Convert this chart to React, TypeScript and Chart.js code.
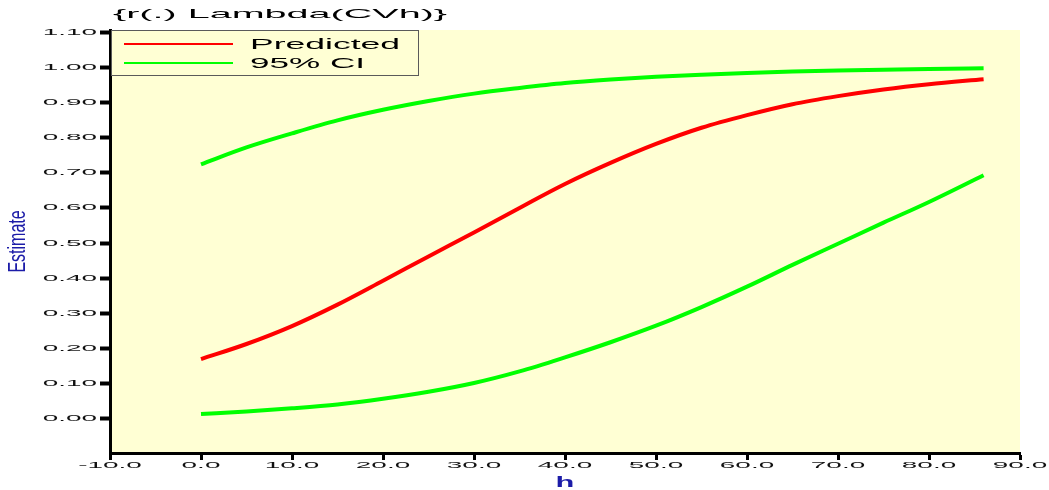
import React, { useEffect, useRef } from "react";
import { Chart, registerables } from "chart.js";

Chart.register(...registerables);

// ---- data ----
const hValues = [0, 5, 10, 15, 20, 25, 30, 35, 40, 45, 50, 55, 60, 65, 70, 75, 80, 86];
const predicted = [
  0.17, 0.213, 0.264, 0.325, 0.393, 0.462, 0.53, 0.6, 0.668, 0.728, 0.782, 0.828, 0.864, 0.895,
  0.918, 0.937, 0.952, 0.966,
];
const upperCI = [
  0.724, 0.772, 0.812, 0.849, 0.879, 0.904, 0.925, 0.941, 0.955, 0.965, 0.973, 0.979, 0.984,
  0.988, 0.991, 0.993, 0.995, 0.997,
];
const lowerCI = [
  0.014, 0.021, 0.03, 0.041, 0.057, 0.077, 0.102, 0.135, 0.175, 0.218, 0.265, 0.318, 0.376,
  0.438, 0.498, 0.558, 0.617, 0.693,
];
const xTickValues = [-10, 0, 10, 20, 30, 40, 50, 60, 70, 80, 90];
const yTickValues = [0, 0.1, 0.2, 0.3, 0.4, 0.5, 0.6, 0.7, 0.8, 0.9, 1.0, 1.1];
const chartTitle = "{r(.) Lambda(CVh)}";
const xAxisTitle = "h";
const yAxisTitle = "Estimate";
const legendLabels = ["Predicted", "95% CI"];

const PLOT_BG = "#FFFFD4";
const RED = "#FF0000";
const GREEN = "#00FF00";
const AXIS_BLUE = "#1C1CA8";
const FONT = "'Liberation Sans', Arial, sans-serif";

function wideText(
  ctx: CanvasRenderingContext2D,
  text: string,
  x: number,
  y: number,
  font: string,
  sx: number,
  align: "left" | "center" | "right",
  color: string,
  baseline: CanvasTextBaseline = "middle"
) {
  ctx.save();
  ctx.font = font;
  ctx.fillStyle = color;
  ctx.textBaseline = baseline;
  ctx.textAlign = "left";
  const w = ctx.measureText(text).width * sx;
  const left = align === "left" ? x : align === "center" ? x - w / 2 : x - w;
  ctx.translate(left, y);
  ctx.scale(sx, 1);
  ctx.fillText(text, 0, 0);
  ctx.restore();
}

function fitText(
  ctx: CanvasRenderingContext2D,
  text: string,
  x: number,
  y: number,
  font: string,
  width: number,
  color: string
) {
  ctx.save();
  ctx.font = font;
  const nat = ctx.measureText(text).width;
  ctx.restore();
  wideText(ctx, text, x, y, font, width / nat, "left", color, "alphabetic");
}

const decorPlugin = {
  id: "decor",
  beforeDraw(chart: any) {
    const { ctx, chartArea } = chart;
    ctx.save();
    ctx.fillStyle = "#FFFFFF";
    ctx.fillRect(0, 0, chart.width, chart.height);
    ctx.fillStyle = PLOT_BG;
    ctx.fillRect(
      chartArea.left,
      chartArea.top,
      chartArea.right - chartArea.left,
      chartArea.bottom - chartArea.top
    );
    ctx.restore();
  },
  afterDraw(chart: any) {
    const { ctx } = chart;
    const xs = chart.scales.x;
    const ys = chart.scales.y;
    const tickFont = `9px ${FONT}`;
    // y tick labels
    yTickValues.forEach((v) => {
      const py = ys.getPixelForValue(v);
      wideText(ctx, v.toFixed(2), 97, py, tickFont, 3.1, "right", "#111");
    });
    // x tick labels
    xTickValues.forEach((v) => {
      const px = xs.getPixelForValue(v);
      wideText(ctx, v.toFixed(1), px, 466, tickFont, 3.1, "center", "#111");
    });
    // title
    fitText(ctx, chartTitle, 113, 18, `13px ${FONT}`, 334, "#000");
    // x axis title
    wideText(
      ctx,
      xAxisTitle,
      (chart.chartArea.left + chart.chartArea.right) / 2,
      487,
      `bold 14px ${FONT}`,
      2.2,
      "center",
      AXIS_BLUE,
      "alphabetic"
    );
    // y axis title (rotated, glyphs stretched across)
    ctx.save();
    ctx.font = `16px ${FONT}`;
    ctx.fillStyle = AXIS_BLUE;
    ctx.textAlign = "center";
    ctx.textBaseline = "middle";
    ctx.translate(19, (chart.chartArea.top + chart.chartArea.bottom) / 2);
    ctx.rotate(-Math.PI / 2);
    ctx.scale(1, 1.45);
    ctx.fillText(yAxisTitle, 0, 0);
    ctx.restore();
    // legend
    const lx = 111.5,
      ly = 30.5,
      lw = 307,
      lh = 45;
    ctx.save();
    ctx.globalAlpha = 1;
    ctx.globalCompositeOperation = "source-over";
    ctx.fillStyle = PLOT_BG;
    ctx.fillRect(lx, ly, lw, lh);
    ctx.strokeStyle = "#5A5A5A";
    ctx.lineWidth = 1;
    ctx.setLineDash([]);
    ctx.strokeRect(lx, ly, lw, lh);
    ctx.fillStyle = RED;
    ctx.fillRect(124, 43, 109, 2);
    ctx.fillStyle = GREEN;
    ctx.fillRect(124, 62, 109, 2);
    ctx.restore();
    fitText(ctx, legendLabels[0], 250, 49, `14px ${FONT}`, 150, "#000");
    fitText(ctx, legendLabels[1], 250, 68, `14px ${FONT}`, 115, "#000");
  },
};

export default function App() {
  const canvasRef = useRef<HTMLCanvasElement | null>(null);

  useEffect(() => {
    document.body.style.margin = "0";
    const canvas = canvasRef.current;
    if (!canvas) return;
    const toPts = (arr: number[]) => hValues.map((h, i) => ({ x: h, y: arr[i] }));
    const lineStyle = {
      borderWidth: 4,
      pointRadius: 0,
      fill: false,
      cubicInterpolationMode: "monotone" as const,
    };
    const chart = new Chart(canvas, {
      type: "line",
      data: {
        datasets: [
          { label: legendLabels[1], data: toPts(upperCI), borderColor: GREEN, ...lineStyle },
          { label: legendLabels[1], data: toPts(lowerCI), borderColor: GREEN, ...lineStyle },
          { label: legendLabels[0], data: toPts(predicted), borderColor: RED, ...lineStyle },
        ],
      },
      options: {
        animation: false,
        responsive: false,
        devicePixelRatio: 1,
        layout: { padding: { left: 0, top: 30, right: 29, bottom: 0 } },
        plugins: {
          legend: { display: false },
          title: { display: false },
          tooltip: { enabled: false },
        },
        scales: {
          x: {
            type: "linear",
            min: -10,
            max: 90,
            afterBuildTicks: (s: any) => {
              s.ticks = xTickValues.map((v) => ({ value: v }));
            },
            afterFit: (s: any) => {
              s.height = 37;
            },
            ticks: { display: false },
            grid: {
              display: true,
              drawOnChartArea: false,
              drawTicks: true,
              tickLength: 7,
              tickWidth: 3,
              tickColor: "#000",
            },
            border: { display: true, color: "#000", width: 3 },
          },
          y: {
            type: "linear",
            min: -0.097,
            max: 1.106,
            afterBuildTicks: (s: any) => {
              s.ticks = yTickValues.map((v) => ({ value: v }));
            },
            afterFit: (s: any) => {
              s.width = 110;
            },
            ticks: { display: false },
            grid: {
              display: true,
              drawOnChartArea: false,
              drawTicks: true,
              tickLength: 10,
              tickWidth: 4,
              tickColor: "#000",
            },
            border: { display: true, color: "#000", width: 3 },
          },
        },
      },
      plugins: [decorPlugin],
    });
    return () => chart.destroy();
  }, []);

  return (
    <div style={{ position: "fixed", left: 0, top: 0, width: 1049, height: 490 }}>
      <canvas ref={canvasRef} width={1049} height={490} style={{ display: "block" }} />
    </div>
  );
}
